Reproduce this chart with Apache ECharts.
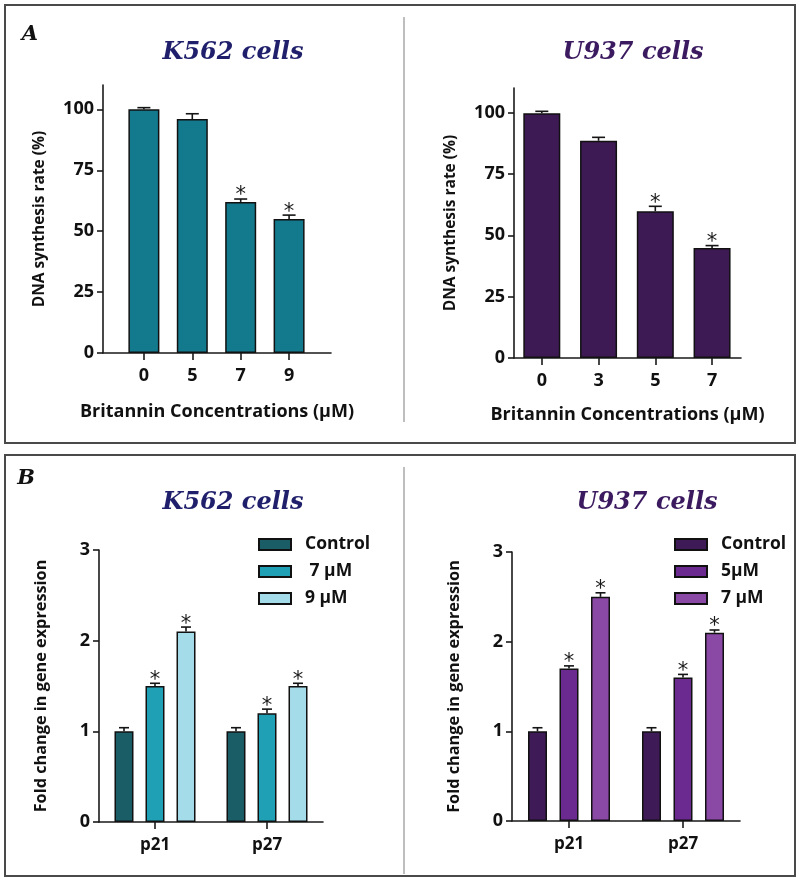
<!DOCTYPE html>
<html><head><meta charset="utf-8">
<script src="https://cdn.jsdelivr.net/npm/echarts@6/dist/echarts.min.js"></script>
<style>html,body{margin:0;padding:0;background:#fff}#c{width:800px;height:879px}</style>
</head><body><div id="c"></div>
<script>
// ---- Panel A data: DNA synthesis rate (%) ----
const k562DoseLabels = ['0', '5', '7', '9'];
const k562Synthesis = [100, 96, 62, 55];
const k562SynthesisErr = [0.7, 2.2, 1.2, 1.6];
const k562SynthesisSig = [0, 0, 1, 1];

const u937DoseLabels = ['0', '3', '5', '7'];
const u937Synthesis = [99.7, 88.5, 59.8, 44.8];
const u937SynthesisErr = [0.8, 1.4, 2.0, 1.0];
const u937SynthesisSig = [0, 0, 1, 1];

const synthesisTicks = [0, 25, 50, 75, 100];

// ---- Panel B data: fold change in gene expression ----
const genes = ['p21', 'p27'];
const k562Groups = ['Control', ' 7 μM', '9 μM'];
const k562ControlFold = [1.0, 1.0];
const k562Dose7Fold = [1.5, 1.2];
const k562Dose9Fold = [2.1, 1.5];
const k562ControlErr = [0.04, 0.04];
const k562Dose7Err = [0.03, 0.045];
const k562Dose9Err = [0.05, 0.03];
const k562ControlSig = [0, 0];
const k562Dose7Sig = [1, 1];
const k562Dose9Sig = [1, 1];

const u937Groups = ['Control', '5μM', '7 μM'];
const u937ControlFold = [1.0, 1.0];
const u937Dose5Fold = [1.7, 1.6];
const u937Dose7Fold = [2.5, 2.1];
const u937ControlErr = [0.04, 0.04];
const u937Dose5Err = [0.03, 0.035];
const u937Dose7Err = [0.045, 0.03];
const u937ControlSig = [0, 0];
const u937Dose5Sig = [1, 1];
const u937Dose7Sig = [1, 1];

const foldTicks = [0, 1, 2, 3];

// ---- styling ----
const SANS = '"Open Sans", "DejaVu Sans", sans-serif';
const SERIF = '"DejaVu Serif", serif';
const AXIS_COLOR = '#1a1a1a';
const TXT = '#111';

const chart = echarts.init(document.getElementById('c'), null, {renderer: 'canvas'});

const grids = [], xAxes = [], yAxes = [], series = [], legends = [];

function errRender(capW, pxOffset, sigFont) {
  return function (params, api) {
    const x = api.value(0), m = api.value(1), e = api.value(2), s = api.value(3);
    const b = api.coord([x, m]);
    const t = api.coord([x, m + e]);
    const cx = b[0] + pxOffset;
    const st = {stroke: '#151515', lineWidth: 1.6};
    const children = [
      {type: 'line', shape: {x1: cx, y1: b[1], x2: cx, y2: t[1]}, style: st},
      {type: 'line', shape: {x1: cx - capW / 2, y1: t[1], x2: cx + capW / 2, y2: t[1]}, style: st}
    ];
    if (s) {
      children.push({type: 'text', style: {text: '*', x: cx, y: t[1] - 3, align: 'center',
        verticalAlign: 'middle', font: sigFont, fill: '#1a1a1a'}});
    }
    return {type: 'group', children};
  };
}

function yAxisCommon(gi, max, ticks, name, nameGap, nameSize) {
  return {
    type: 'value', gridIndex: gi, min: 0, max: max,
    name: name, nameLocation: 'middle', nameRotate: 90, nameGap: nameGap,
    nameTextStyle: {fontFamily: SANS, fontWeight: 'bold', fontSize: nameSize, color: TXT},
    axisLine: {show: true, onZero: false, lineStyle: {color: AXIS_COLOR, width: 1.6}},
    axisTick: {show: true, length: 6, customValues: ticks, lineStyle: {color: AXIS_COLOR, width: 1.6}},
    axisLabel: {customValues: ticks, margin: 9, fontFamily: SANS, fontWeight: 'bold', fontSize: 18, color: TXT},
    splitLine: {show: false}
  };
}

function topPanel(gi, rect, labels, vals, errs, sigs, color, padL, padR, barW, titleGap) {
  grids.push(Object.assign({containLabel: false}, rect));
  const n = labels.length;
  const idx = labels.map((_, i) => i);
  xAxes.push({
    type: 'value', gridIndex: gi, min: -padL, max: (n - 1) + padR,
    name: 'Britannin Concentrations (μM)', nameLocation: 'middle', nameGap: titleGap,
    nameTextStyle: {fontFamily: SANS, fontWeight: 'bold', fontSize: 18, color: TXT},
    axisLine: {show: true, onZero: false, lineStyle: {color: AXIS_COLOR, width: 1.6}},
    axisTick: {show: true, length: 7, customValues: idx, lineStyle: {color: AXIS_COLOR, width: 1.6}},
    axisLabel: {customValues: idx, margin: 14, fontFamily: SANS, fontWeight: 'bold', fontSize: 18, color: TXT,
      formatter: v => labels[Math.round(v)]},
    splitLine: {show: false}
  });
  yAxes.push(yAxisCommon(gi, 110, synthesisTicks, 'DNA synthesis rate (%)', 55, 15.5));
  series.push({
    type: 'bar', xAxisIndex: gi, yAxisIndex: gi, barWidth: barW,
    data: vals.map((v, i) => [i, v]),
    itemStyle: {color: color, borderColor: '#111', borderWidth: 1.5},
    emphasis: {disabled: true}, silent: true
  });
  series.push({
    type: 'custom', xAxisIndex: gi, yAxisIndex: gi, silent: true,
    encode: {x: 0, y: 1},
    data: vals.map((v, i) => [i, v, errs[i], sigs[i]]),
    renderItem: errRender(13, 0, '21px "DejaVu Sans"'), z: 3
  });
}

function bottomPanel(gi, rect, tag, groups, valsList, errList, sigList, colors, barW, gap, legendPos) {
  grids.push(Object.assign({containLabel: false}, rect));
  xAxes.push({
    type: 'category', gridIndex: gi, data: genes,
    axisLine: {show: true, onZero: false, lineStyle: {color: AXIS_COLOR, width: 1.6}},
    axisTick: {show: true, alignWithLabel: true, length: 7, lineStyle: {color: AXIS_COLOR, width: 1.6}},
    axisLabel: {margin: 15, fontFamily: SANS, fontWeight: 'bold', fontSize: 17, color: TXT},
    splitLine: {show: false}
  });
  yAxes.push(Object.assign(yAxisCommon(gi, 3, foldTicks, 'Fold change in gene expression', 50, 16.3), {interval: 1}));
  const names = groups.map(g => tag + '|' + g);
  groups.forEach((g, k) => {
    series.push({
      type: 'bar', name: names[k], xAxisIndex: gi, yAxisIndex: gi, barWidth: barW,
      barGap: (gap / barW * 100).toFixed(1) + '%',
      data: valsList[k],
      itemStyle: {color: colors[k], borderColor: '#111', borderWidth: 1.5},
      emphasis: {disabled: true}, silent: true
    });
  });
  groups.forEach((g, k) => {
    series.push({
      type: 'custom', xAxisIndex: gi, yAxisIndex: gi, silent: true,
      encode: {x: 0, y: 1}, z: 3,
      data: valsList[k].map((v, i) => [i, v, errList[k][i], sigList[k][i]]),
      renderItem: errRender(10, (k - 1) * (barW + gap), '21px "DejaVu Sans"')
    });
  });
  legends.push(Object.assign({
    orient: 'vertical', data: names, icon: 'rect', itemWidth: 32, itemHeight: 11, itemGap: 6,
    selectedMode: false,
    formatter: nm => nm.split('|')[1],
    textStyle: {fontFamily: SANS, fontWeight: 'bold', fontSize: 17.5, color: TXT, lineHeight: 21,
      padding: [0, 0, 0, 9]}
  }, legendPos));
}

topPanel(0, {left: 103, top: 85, width: 228, height: 268}, k562DoseLabels, k562Synthesis,
  k562SynthesisErr, k562SynthesisSig, '#13798d', 0.845, 0.866, 31, 50);
topPanel(1, {left: 514, top: 88, width: 227, height: 270}, u937DoseLabels, u937Synthesis,
  u937SynthesisErr, u937SynthesisSig, '#3e1a55', 0.49, 0.51, 37, 48);

bottomPanel(2, {left: 99, top: 550, width: 224, height: 272}, 'K562', k562Groups,
  [k562ControlFold, k562Dose7Fold, k562Dose9Fold],
  [k562ControlErr, k562Dose7Err, k562Dose9Err],
  [k562ControlSig, k562Dose7Sig, k562Dose9Sig],
  ['#1a5d67', '#20a0b4', '#a5dce9'], 19, 12, {left: 253, top: 529});
bottomPanel(3, {left: 512, top: 552, width: 228, height: 269}, 'U937', u937Groups,
  [u937ControlFold, u937Dose5Fold, u937Dose7Fold],
  [u937ControlErr, u937Dose5Err, u937Dose7Err],
  [u937ControlSig, u937Dose5Sig, u937Dose7Sig],
  ['#3e1a57', '#6a2a8f', '#8b49a6'], 19, 12.5, {left: 669, top: 529});

const frameStyle = {fill: 'none', stroke: '#4a4a4a', lineWidth: 2};
const divStyle = {stroke: '#a8a8a8', lineWidth: 1.5};
function titleText(text, x, y, color) {
  return {type: 'text', x: x, y: y, style: {text: text, fill: color, align: 'center', verticalAlign: 'middle',
    font: 'italic bold 24px ' + SERIF}};
}
const graphics = [
  {type: 'rect', shape: {x: 5, y: 5, width: 790, height: 438}, style: frameStyle, silent: true},
  {type: 'rect', shape: {x: 5, y: 455, width: 790, height: 421}, style: frameStyle, silent: true},
  {type: 'line', shape: {x1: 404, y1: 17, x2: 404, y2: 422}, style: divStyle, silent: true},
  {type: 'line', shape: {x1: 404, y1: 467, x2: 404, y2: 874}, style: divStyle, silent: true},
  {type: 'text', x: 30, y: 35, style: {text: 'A', fill: '#111', align: 'center', verticalAlign: 'middle', font: 'italic bold 21px ' + SERIF}},
  {type: 'text', x: 26, y: 479, style: {text: 'B', fill: '#111', align: 'center', verticalAlign: 'middle', font: 'italic bold 21px ' + SERIF}},
  titleText('K562 cells', 233, 53, '#1f1f6b'),
  titleText('U937 cells', 633, 53, '#3b1a60'),
  titleText('K562 cells', 233, 503, '#1f1f6b'),
  titleText('U937 cells', 647, 503, '#3b1a60')
];

chart.setOption({
  backgroundColor: '#ffffff',
  animation: false,
  grid: grids, xAxis: xAxes, yAxis: yAxes, series: series, legend: legends,
  graphic: graphics
});
</script></body></html>
